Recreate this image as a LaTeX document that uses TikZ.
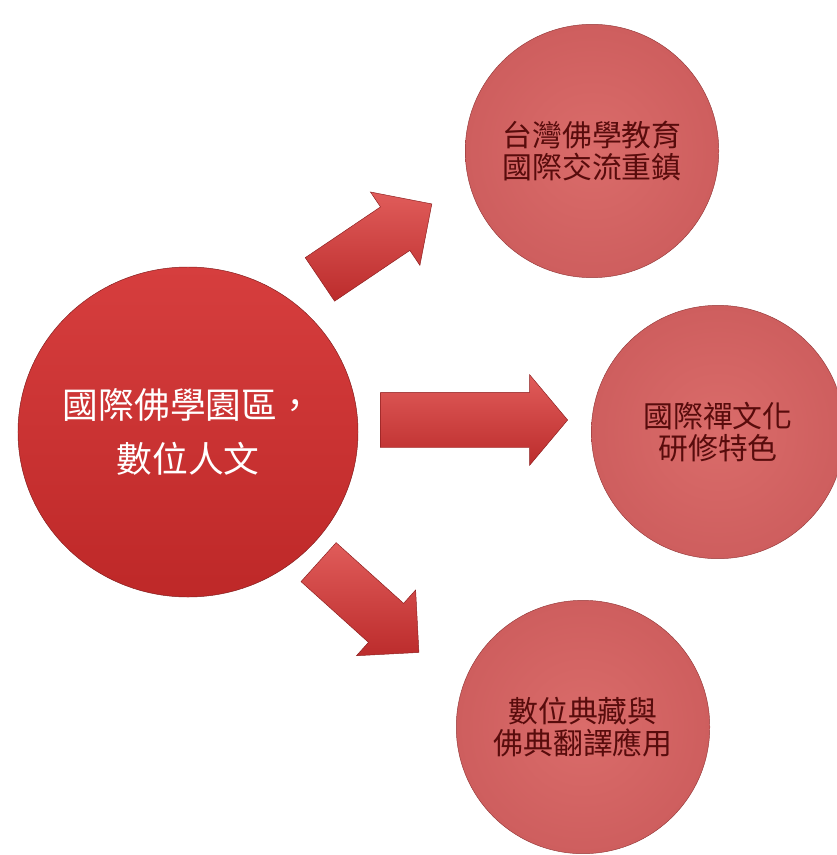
\documentclass[tikz,border=0pt]{standalone}
\usepackage{fontspec}
\newfontfamily\cjk{Noto Sans CJK TC}
\usetikzlibrary{shapes.geometric,shapes.arrows,positioning}

\definecolor{hubtop}{RGB}{214,62,62}
\definecolor{hubbot}{RGB}{190,40,40}
\definecolor{hubedge}{RGB}{130,28,28}
\definecolor{petalin}{RGB}{218,108,106}
\definecolor{petalout}{RGB}{206,94,94}
\definecolor{petaledge}{RGB}{150,58,58}
\definecolor{petaltext}{RGB}{88,12,12}
\definecolor{arrowtop}{RGB}{224,92,90}
\definecolor{arrowbot}{RGB}{188,44,44}
\definecolor{arrowedge}{RGB}{140,30,30}

\begin{document}
\begin{tikzpicture}[x=0.03cm,y=-0.03cm,on grid,
		hub/.style={ellipse,draw=hubedge,thin,top color=hubtop,bottom color=hubbot,
			minimum width=10.2cm,minimum height=9.9cm,inner xsep=-0.6cm,inner ysep=0pt,align=center,
			text=white,font={\cjk\fontsize{30.5}{46}\selectfont}},
		petal/.style={ellipse,draw=petaledge,thin,inner color=petalin,outer color=petalout,
			minimum width=7.6cm,minimum height=7.6cm,inner sep=0pt,align=center,
			text=petaltext,font={\cjk\fontsize{25.5}{27.5}\selectfont}},
		blockarrow/.style={single arrow,draw=arrowedge,thin,top color=arrowtop,bottom color=arrowbot,
			minimum height=4.05cm,inner xsep=0pt,inner ysep=0.78cm,single arrow head extend=0.54cm,
			single arrow tip angle=90}]
   \useasboundingbox (0,0) rectangle (837,855);

   % centre and the three goals
   \node [hub]   (hub)  at (188,432) {國際佛學園區，\\數位人文};
   \node [petal] (edu)  [above right=8.43cm and 12.12cm of hub] {台灣佛學教育\\國際交流重鎮};
   \node [petal] (zen)  [right=15.9cm of hub] {國際禪文化\\研修特色};
   \node [petal] (digi) [below right=8.85cm and 11.85cm of hub] {數位典藏與\\佛典翻譯應用};

   % block arrows
   \node [blockarrow,rotate=34]  (toedu)  at (365,249) {};
   \node [blockarrow,minimum height=5.61cm,inner ysep=0.825cm,single arrow head extend=0.525cm,
          single arrow tip angle=100] (tozen) at (462.5,420) {};
   \node [blockarrow,rotate=-42] (todigi) at (359,598.5) {};
\end{tikzpicture}
\end{document}
